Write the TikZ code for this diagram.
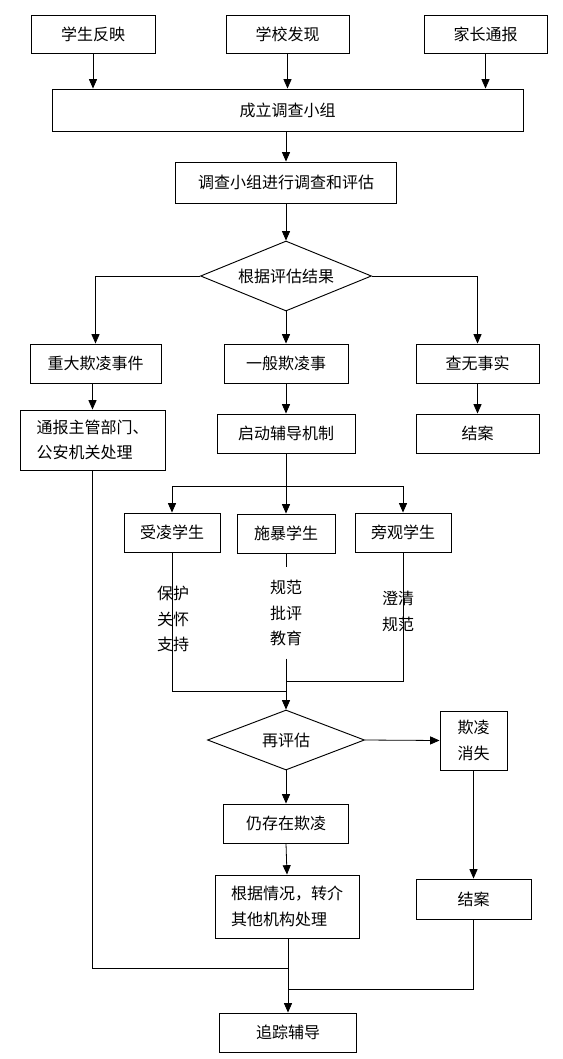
\documentclass[tikz,border=0pt]{standalone}
\usepackage{fontspec}
\setmainfont{Noto Sans CJK SC}
\usetikzlibrary{arrows.meta,shapes.geometric}

\begin{document}
\begin{tikzpicture}[
    x=0.75pt, y=-0.75pt,
    every node/.style={font=\fontsize{12}{19}\selectfont, inner sep=0pt},
    box/.style 2 args={draw, line width=0.7pt, minimum width=#1*0.75pt, minimum height=#2*0.75pt},
    rhomb/.style 2 args={draw, diamond, line width=0.7pt, minimum width=#1*0.75pt, minimum height=#2*0.75pt},
    flow/.style={line width=0.6pt},
    go/.style={flow, -{Triangle[length=7pt,width=6pt]}},
]
  \useasboundingbox (0,0) rectangle (563,1059);

  % sources
  \node [box={124}{38}]            (pupil)    at (93,   34)    {学生反映};
  \node [box={123}{38}]            (school)   at (287.5,34)    {学校发现};
  \node [box={123}{38}]            (parent)   at (485.5,34)    {家长通报};
  \node [box={471}{42}]            (team)     at (287.5,110)   {成立调查小组};
  \node [box={221}{41}]            (probe)    at (286,  182.5) {调查小组进行调查和评估};
  \node [rhomb={171}{70}, aspect=2.44] (judge) at (286,  276)   {根据评估结果};

  % three outcomes
  \node [box={131}{39}]            (major)    at (95.5, 363.5) {重大欺凌事件};
  \node [box={124}{39}]            (common)   at (286,  363.5) {一般欺凌事};
  \node [box={123}{39}]            (nofact)   at (477.5,363.5) {查无事实};
  \node [box={145}{60}, align=left] (report)  at (92.5, 440)   {通报主管部门、\\公安机关处理};
  \node [box={138}{39}]            (tutor)    at (286,  433.5) {启动辅导机制};
  \node [box={123}{39}]            (closeA)   at (477.5,433.5) {结案};

  % students
  \coordinate                      (fork)     at (286,  486);
  \node [box={96}{39}]             (victim)   at (172,  532.5) {受凌学生};
  \node [box={98}{39}]             (bully)    at (286,  533.5) {施暴学生};
  \node [box={96}{39}]             (witness)  at (403,  532.5) {旁观学生};
  \node [align=center]             (care)     at (173,  619)   {保护\\关怀\\支持};
  \node [align=center, inner ysep=9.5pt] (correct) at (286, 613) {规范\\批评\\教育};
  \node [align=center]             (clarify)  at (398,  611.5) {澄清\\规范};
  \coordinate                      (joinA)    at (286,  691);
  \coordinate                      (joinB)    at (286,  681);

  % re-assessment
  \node [rhomb={157}{60}, aspect=2.62] (recheck) at (286, 740)   {再评估};
  \node [box={67}{59}, align=center, font=\fontsize{12}{19.5}\selectfont] (gone) at (473.5,740.5) {欺凌\\消失};
  \node [box={125}{39}]            (remain)   at (286,  823.5) {仍存在欺凌};
  \node [box={144}{63}, align=left] (refer)   at (287,  906.5) {根据情况，转介\\其他机构处理};
  \node [box={115}{40}]            (closeB)   at (473.5,899)   {结案};
  \node [box={137}{39}]            (follow)   at (288,  1032.5){追踪辅导};
  \coordinate                      (joinC)    at (288,  968);
  \coordinate                      (joinD)    at (288,  989);

  % connectors
  \draw [go]   (pupil.south)  -- (pupil.south  |- team.north);
  \draw [go]   (school.south) -- (school.south |- team.north);
  \draw [go]   (parent.south) -- (parent.south |- team.north);
  \draw [go]   (probe.north  |- team.south) -- (probe.north);
  \draw [go]   (probe.south)  -- (judge.north);
  \draw [go]   (judge.west)   -| (major.north);
  \draw [go]   (judge.south)  -- (common.north);
  \draw [go]   (judge.east)   -| (nofact.north);
  \draw [go]   (report.north |- major.south) -- (report.north);
  \draw [go]   (common.south) -- (tutor.north);
  \draw [go]   (nofact.south) -- (closeA.north);

  \draw [flow] (tutor.south)  -- (fork);
  \draw [go]   (fork)         -| (victim.north);
  \draw [go]   (fork)         -- (bully.north);
  \draw [go]   (fork)         -| (witness.north);

  \draw [flow] (victim.south) |- (joinA);
  \draw [flow] (witness.south) |- (joinB);
  \draw [flow] (bully.south)  -- (correct.north);
  \draw [go]   (correct.south) -- (recheck.north);

  \draw [go]   (recheck.east)  -- (gone.west);
  \draw [go]   (recheck.south) -- (remain.north);
  \draw [go]   (remain.south)  -- (refer.north);
  \draw [go]   (gone.south)    -- (gone.south |- closeB.north);

  \draw [flow] (report.south)  |- (joinC);
  \draw [flow] (closeB.south)  |- (joinD);
  \draw [go]   (follow.north |- refer.south) -- (follow.north);
\end{tikzpicture}
\end{document}
